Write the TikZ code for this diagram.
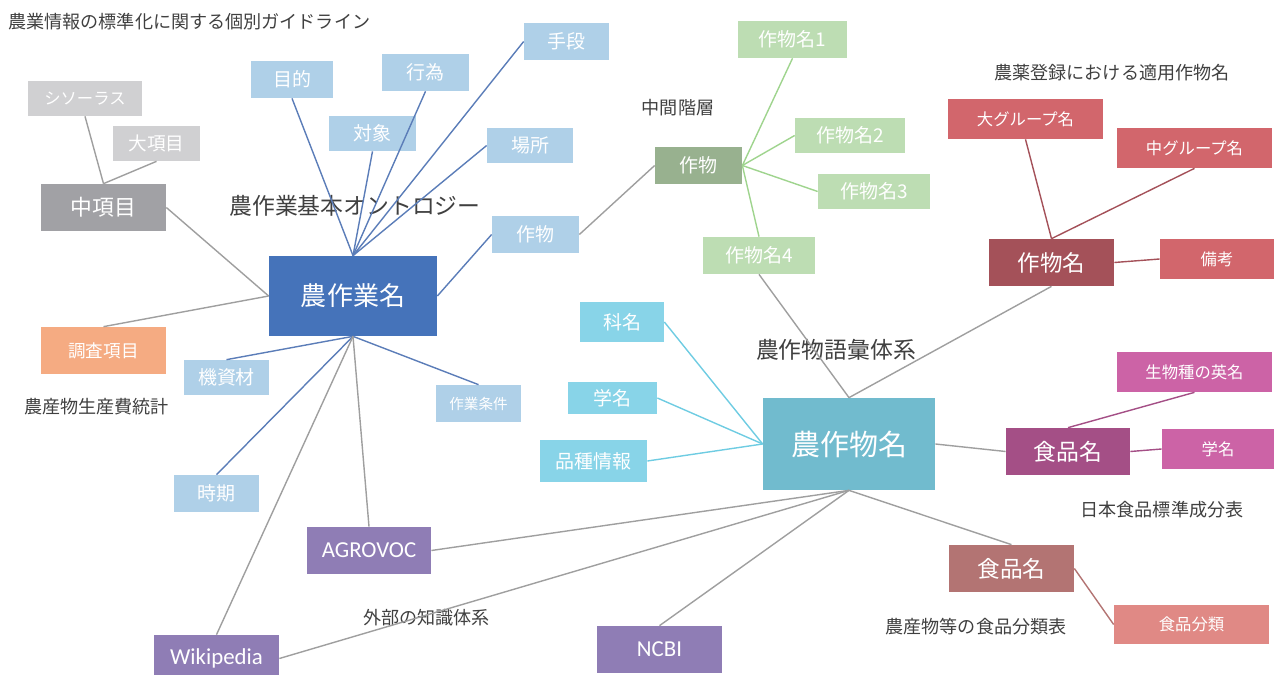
\documentclass[tikz,border=0pt]{standalone}
\usepackage{fontspec}
\setmainfont{Noto Sans CJK JP}
\newfontfamily\latinfont{Carlito}
\usetikzlibrary{positioning}
\definecolor{txtgray}{HTML}{404040}
\definecolor{thesgray}{HTML}{D0D0D2}
\definecolor{midgray}{HTML}{A1A1A5}
\definecolor{salmon}{HTML}{F5AB82}
\definecolor{opblue}{HTML}{4573BA}
\definecolor{leafblue}{HTML}{AFD0E8}
\definecolor{extpurple}{HTML}{8F7DB5}
\definecolor{cropgreen}{HTML}{98B18F}
\definecolor{leafgreen}{HTML}{BDDDB3}
\definecolor{grpred}{HTML}{D2666C}
\definecolor{cropred}{HTML}{A45159}
\definecolor{leafcyan}{HTML}{88D4E8}
\definecolor{hubteal}{HTML}{71BBCE}
\definecolor{foodmag}{HTML}{A44F86}
\definecolor{leafpink}{HTML}{CC63A6}
\definecolor{foodbrown}{HTML}{B37473}
\definecolor{leafrose}{HTML}{E08985}
\definecolor{greenline}{HTML}{9FD48E}
\definecolor{cyanline}{HTML}{6FCCE2}
\definecolor{blueline}{HTML}{5B7DB8}
\tikzset{box/.style={rectangle,inner sep=0pt,text=white}}
\tikzset{sz/.style 2 args={minimum width=#1*0.02cm,minimum height=#2*0.02cm}}
\tikzset{fs/.style={font=\fontsize{#1}{#1}\selectfont}}
\tikzset{lbl/.style={inner sep=0pt,text=txtgray,font=\fontsize{10.3}{12}\selectfont}}
\tikzset{ln/.style={line width=0.8pt,draw=#1}}

\begin{document}
\begin{tikzpicture}[x=0.02cm,y=-0.02cm]
	\useasboundingbox (0,0) rectangle (1274,675);
	% 農作業基本オントロジー
	\node[box,fill=opblue,sz={168}{80},fs=14.8] (nosagyo) at (353,296) {農作業名};
	\node[box,fill=leafblue,sz={82}{37},fs=10.8] (mokuteki) at (292,79.5) {目的};
	\node[box,fill=leafblue,sz={87}{37},fs=10.8] (koui) at (425.5,72.5) {行為};
	\node[box,fill=leafblue,sz={85}{37},fs=10.8] (shudan) at (566.5,41.5) {手段};
	\node[box,fill=leafblue,sz={87}{35},fs=10.8] (taisho) at (372.5,133.5) {対象};
	\node[box,fill=leafblue,sz={86}{35},fs=10.8] (basho) at (530,145.5) {場所};
	\node[box,fill=leafblue,sz={87}{37},fs=10.8] (sakumotsu) at (535.5,234.5) {作物};
	\node[box,fill=leafblue,sz={85}{35},fs=10.8] (kishizai) at (226.5,377.5) {機資材};
	\node[box,fill=leafblue,sz={85}{37},fs=8.3] (joken) at (478.5,403.5) {作業条件};
	\node[box,fill=leafblue,sz={85}{37},fs=10.8] (jiki) at (216.5,493.5) {時期};
	% 農産物生産費統計
	\node[box,fill=thesgray,sz={114}{35},fs=9.3] (thes) at (85,98.5) {シソーラス};
	\node[box,fill=thesgray,sz={87}{35},fs=10.6] (daikou) at (156.5,143.5) {大項目};
	\node[box,fill=midgray,sz={125}{47},fs=12.4] (chukou) at (103.5,207.5) {中項目};
	\node[box,fill=salmon,sz={125}{47},fs=10] (chousa) at (103.5,350.5) {調査項目};
	% 外部の知識体系
	\node[box,fill=extpurple,sz={124}{47},font=\latinfont\fontsize{13}{13}\selectfont] (agrovoc) at (369,550.5) {AGROVOC};
	\node[box,fill=extpurple,sz={125}{47},font=\latinfont\fontsize{13}{13}\selectfont] (wiki) at (216.5,658.5) {Wikipedia};
	\node[box,fill=extpurple,sz={125}{47},font=\latinfont\fontsize{13}{13}\selectfont] (ncbi) at (659.5,649.5) {NCBI};
	% 中間階層
	\node[box,fill=cropgreen,sz={87}{37},fs=10.8] (chukan) at (698.5,165.5) {作物};
	\node[box,fill=leafgreen,sz={109}{37},fs=10.8] (mei1) at (792.5,39.5) {作物名1};
	\node[box,fill=leafgreen,sz={110}{35},fs=10.8] (mei2) at (850,135.5) {作物名2};
	\node[box,fill=leafgreen,sz={112}{35},fs=10.8] (mei3) at (874,191.5) {作物名3};
	\node[box,fill=leafgreen,sz={112}{37},fs=10.8] (mei4) at (759,255.5) {作物名4};
	% 農作物語彙体系
	\node[box,fill=hubteal,sz={172}{92},fs=16.5] (nosakumotsu) at (849,444) {農作物名};
	\node[box,fill=leafcyan,sz={84}{40},fs=10.8] (kamei) at (622,322) {科名};
	\node[box,fill=leafcyan,sz={89}{32},fs=10.8] (gakumei) at (612.5,398) {学名};
	\node[box,fill=leafcyan,sz={107}{42},fs=10.8] (hinshu) at (593.5,461) {品種情報};
	% 農薬登録における適用作物名
	\node[box,fill=cropred,sz={125}{47},fs=12.8] (tekiyo) at (1051.5,262.5) {作物名};
	\node[box,fill=grpred,sz={155}{40},fs=9.3] (daigrp) at (1025.5,119) {大グループ名};
	\node[box,fill=grpred,sz={155}{40},fs=9.3] (chugrp) at (1194.5,148) {中グループ名};
	\node[box,fill=grpred,sz={114}{40},fs=9.3] (biko) at (1217,259) {備考};
	% 日本食品標準成分表
	\node[box,fill=foodmag,sz={124}{47},fs=13] (seibun) at (1068,451.5) {食品名};
	\node[box,fill=leafpink,sz={155}{40},fs=9.3] (eimei) at (1194.5,372) {生物種の英名};
	\node[box,fill=leafpink,sz={112}{40},fs=9.3] (gakumei2) at (1218,449) {学名};
	% 農産物等の食品分類表
	\node[box,fill=foodbrown,sz={125}{47},fs=12.9] (bunrui) at (1011.5,568.5) {食品名};
	\node[box,fill=leafrose,sz={155}{39},fs=9.3] (bunrui2) at (1191.5,624.5) {食品分類};

	% labels
	\node[lbl,anchor=west] (title) at (8,22) {農業情報の標準化に関する個別ガイドライン};
	\node[lbl,fs=13] (onto) at (355,206) {農作業基本オントロジー};
	\node[lbl] (seisanhi) at (96.5,407) {農産物生産費統計};
	\node[lbl] (gaibu) at (426.5,618) {外部の知識体系};
	\node[lbl] (chukanlbl) at (678,108) {中間階層};
	\node[lbl] (noyaku) at (1112,73) {農薬登録における適用作物名};
	\node[lbl,fs=13] (goi) at (836,350) {農作物語彙体系};
	\node[lbl] (nihon) at (1162,510) {日本食品標準成分表};
	\node[lbl] (bunruihyo) at (976,627) {農産物等の食品分類表};

	% connectors
	\foreach \n/\a in {mokuteki/south,koui/south,shudan/west,taisho/south,basho/west}{
		\draw[ln=blueline] (nosagyo.north) -- (\n.\a);
	}
	\foreach \n in {kishizai,joken,jiki}{
		\draw[ln=blueline] (nosagyo.south) -- (\n.north);
	}
	\draw[ln=blueline] (nosagyo.east) -- (sakumotsu.west);
	\draw[ln=gray!75] (sakumotsu.east) -- (chukan.west);
	\draw[ln=gray!75] (chukou.east) -- (nosagyo.west);
	\draw[ln=gray!75] (chousa.north) -- (nosagyo.west);
	\draw[ln=gray!75] (thes.south) -- (chukou.north);
	\draw[ln=gray!75] (daikou.south) -- (chukou.north);
	\foreach \n in {agrovoc,wiki}{
		\draw[ln=gray!75] (nosagyo.south) -- (\n.north);
		\draw[ln=gray!75] (nosakumotsu.south) -- (\n.east);
	}
	\draw[ln=gray!75] (nosakumotsu.south) -- (ncbi.north);
	\draw[ln=gray!75] (nosakumotsu.south) -- (bunrui.north);
	\draw[ln=gray!75] (nosakumotsu.north) -- (mei4.south);
	\draw[ln=gray!75] (nosakumotsu.north) -- (tekiyo.south);
	\draw[ln=gray!75] (nosakumotsu.east) -- (seibun.west);
	\foreach \n in {kamei,gakumei,hinshu}{
		\draw[ln=cyanline] (nosakumotsu.west) -- (\n.east);
	}
	\foreach \n/\a in {mei1/south,mei2/west,mei3/west,mei4/north}{
		\draw[ln=greenline] (chukan.east) -- (\n.\a);
	}
	\draw[ln=cropred] (tekiyo.north) -- (daigrp.south);
	\draw[ln=cropred] (tekiyo.north) -- (chugrp.south);
	\draw[ln=cropred] (tekiyo.east) -- (biko.west);
	\draw[ln=foodmag] (seibun.north) -- (eimei.south);
	\draw[ln=foodmag] (seibun.east) -- (gakumei2.west);
	\draw[ln=foodbrown] (bunrui.east) -- (bunrui2.west);
\end{tikzpicture}
\end{document}
